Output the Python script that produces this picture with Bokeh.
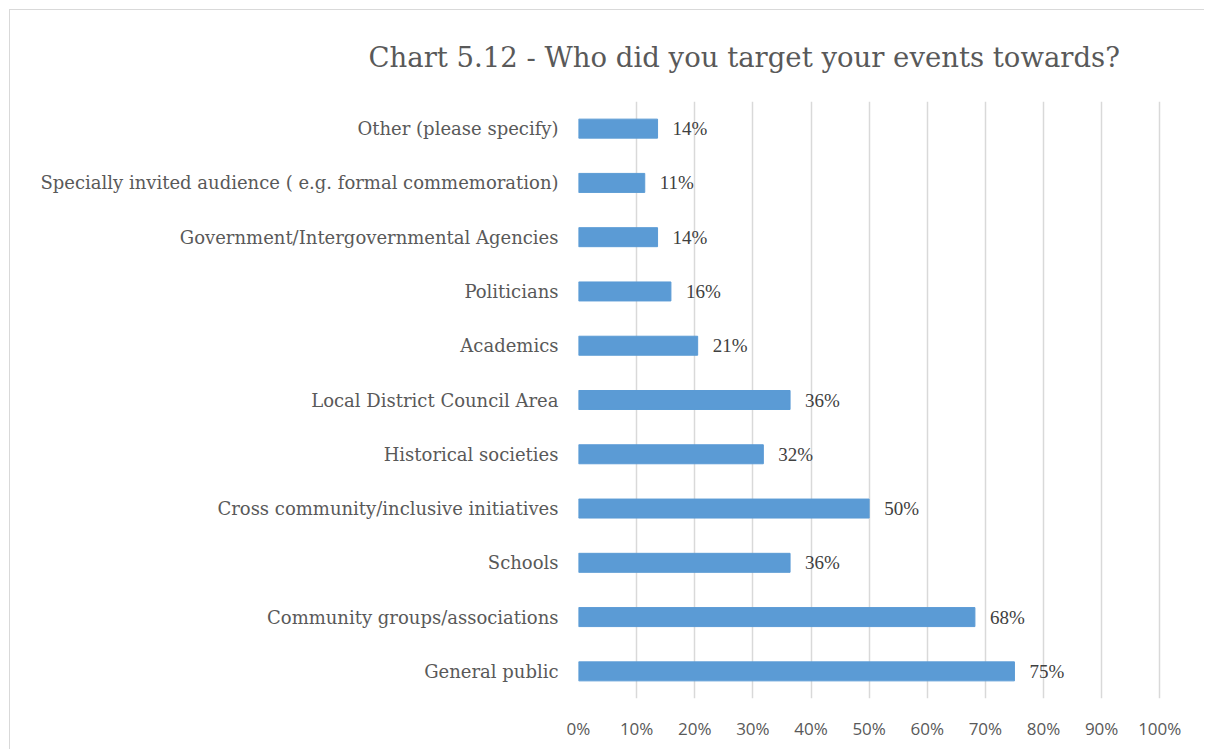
from bokeh.plotting import figure
from bokeh.models import ColumnDataSource, LabelSet, Range1d, FactorRange, FixedTicker, NumeralTickFormatter, Title
from bokeh.embed import file_html
from bokeh.resources import INLINE

# Data (bottom to top)
categories = [
    "General public",
    "Community groups/associations",
    "Schools",
    "Cross community/inclusive initiatives",
    "Historical societies",
    "Local District Council Area",
    "Academics",
    "Politicians",
    "Government/Intergovernmental Agencies",
    "Specially invited audience ( e.g. formal commemoration)",
    "Other (please specify)",
]
values = [0.750, 0.682, 0.364, 0.500, 0.318, 0.364, 0.205, 0.159, 0.136, 0.114, 0.136]
value_labels = ["75%", "68%", "36%", "50%", "32%", "36%", "21%", "16%", "14%", "11%", "14%"]
x_ticks = [0.0, 0.1, 0.2, 0.3, 0.4, 0.5, 0.6, 0.7, 0.8, 0.9, 1.0]
title_text = "Chart 5.12 - Who did you target your events towards?"

source = ColumnDataSource(dict(cat=categories, val=values, lab=value_labels))

p = figure(
    width=1195, height=740,
    y_range=FactorRange(factors=categories, range_padding=0),
    x_range=Range1d(0, 1.003),
    output_backend="svg", toolbar_location=None,
    min_border_left=568, min_border_right=44, min_border_top=90, min_border_bottom=52,
)
p.styles = {"border-left": "1px solid #d9d9d9", "border-top": "1px solid #d9d9d9",
            "margin-left": "9px", "margin-top": "9px"}

t = Title(text=title_text, align="left", offset=-210,
          text_font="DejaVu Serif", text_font_size="27.5px", text_font_style="normal",
          text_color="#595959", standoff=57)
p.add_layout(t, "above")

p.hbar(y="cat", right="val", left=0, height=0.35, source=source,
       fill_color="#5b9bd5", line_color="#5b9bd5")

labels = LabelSet(x="val", y="cat", text="lab", source=source, x_offset=15,
                  text_baseline="middle", text_font="DejaVu Serif", text_font_size="19px",
                  text_color="#404040")
p.add_layout(labels)

p.outline_line_color = None
p.background_fill_color = "white"
p.border_fill_color = "white"

p.xaxis.ticker = FixedTicker(ticks=x_ticks)
p.xaxis.formatter = NumeralTickFormatter(format="0%")
p.xaxis.axis_line_color = None
p.xaxis.major_tick_line_color = None
p.xaxis.minor_tick_line_color = None
p.xaxis.major_label_standoff = 12
p.xaxis.major_label_text_font = "Open Sans"
p.xaxis.major_label_text_font_size = "17px"
p.xaxis.major_label_text_color = "#595959"

p.yaxis.axis_line_color = None
p.yaxis.major_tick_line_color = None
p.yaxis.minor_tick_line_color = None
p.yaxis.major_label_standoff = 14
p.yaxis.major_label_text_font = "DejaVu Serif"
p.yaxis.major_label_text_font_size = "18px"
p.yaxis.major_label_text_color = "#595959"

p.xgrid.grid_line_color = "#d9d9d9"
p.xgrid.grid_line_width = 1.5
p.ygrid.grid_line_color = None

open("out.html", "w").write(file_html(p, INLINE))
